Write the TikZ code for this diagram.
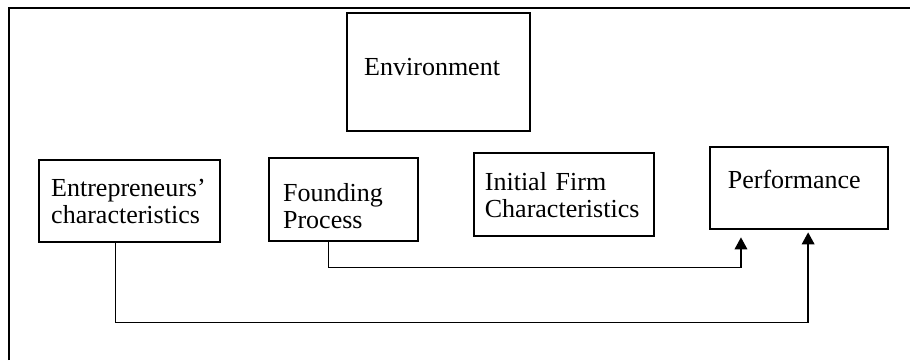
\documentclass[tikz,border=0pt]{standalone}
\usepackage{fontspec}
\setmainfont{Liberation Serif}
\usepackage{tikz}
\usetikzlibrary{arrows.meta, positioning}

\begin{document}
\begin{tikzpicture}[
    factor/.style={draw, line width=1pt, align=left, inner sep=0pt, font=\fontsize{13}{13.5}\selectfont},
    link/.style={line width=0.8pt, -{Triangle[length=6pt, width=6.3pt]}},
]
    \useasboundingbox (0,0) rectangle (15.99,6.33);
    \draw[line width=0.8pt] (0.16,0) |- (15.99,6.19);

    \node[factor, minimum width=3.22cm, minimum height=2.07cm, text width=2.62cm, text depth=5pt] (env) at (7.71,5.06) {Environment};

    \node[factor, minimum width=3.18cm, minimum height=1.44cm, text width=2.76cm] (ent) at (2.28,2.79) {Entrepreneurs'\\characteristics};
    \node[factor, minimum width=2.62cm, minimum height=1.46cm, text width=2.13cm, text height=15pt] (found) at (6.04,2.82) {Founding\\Process};
    \node[factor, minimum width=3.16cm, minimum height=1.46cm, text width=2.78cm] (init) at (9.91,2.91) {Initial Firm\\Characteristics};
    \node[factor, minimum width=3.13cm, minimum height=1.44cm, text width=2.50cm, text depth=9pt] (perf) at (14.04,3.02) {Performance};

    \draw[link, shorten >=3.5pt] ([xshift=-0.27cm]found.south) -- ++(0,-0.44) -| ([xshift=-1.02cm]perf.south);
    \draw[link, shorten >=1pt] ([xshift=-0.25cm]ent.south) -- ++(0,-1.39) -| ([xshift=0.16cm]perf.south);
\end{tikzpicture}
\end{document}
